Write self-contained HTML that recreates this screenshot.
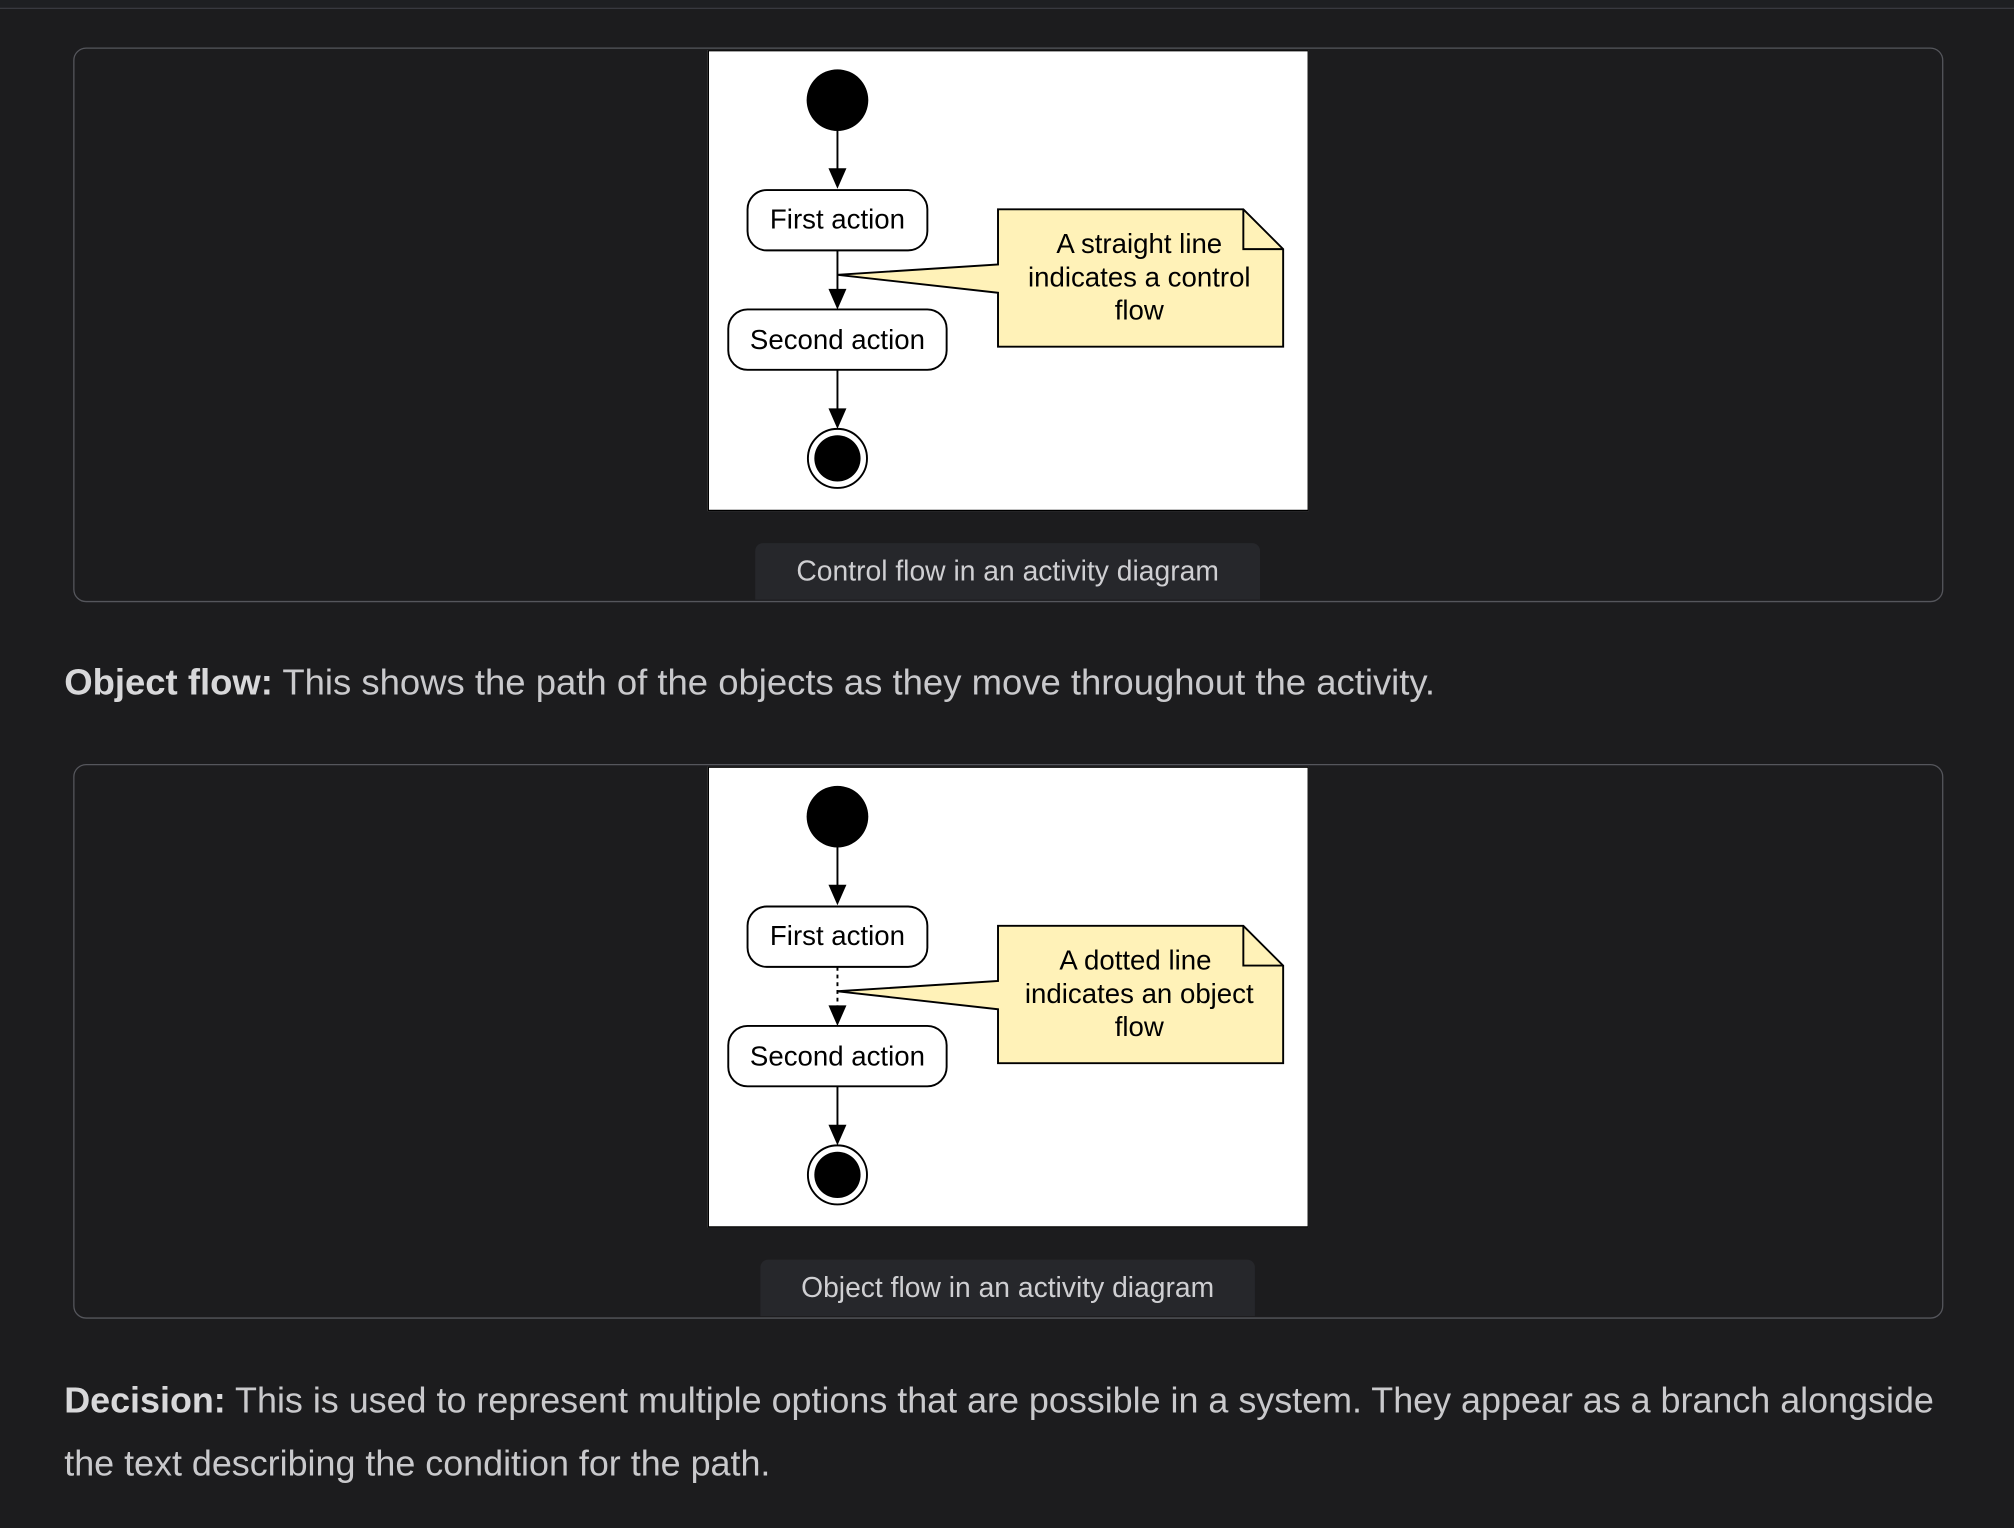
<!DOCTYPE html>
<html><head><meta charset="utf-8"><style>
html,body{margin:0;padding:0;background:#1c1c1e;width:2014px;height:1528px;overflow:hidden}
#w{position:absolute;left:0;top:0;width:1568px;height:1190px;transform:scale(1.28444,1.28403);transform-origin:0 0;font-family:"Liberation Sans",Arial,sans-serif}
.bar{position:absolute;left:0;top:0;width:1568px;height:6px;background:#1e1f22;border-bottom:1.5px solid #393a40}
.card{position:absolute;left:57px;width:1456px;height:432px;border:1.5px solid #55565c;border-radius:10px;box-sizing:border-box}
.img{position:absolute;left:551px;width:468px;height:359px;background:#fff;border:1.5px solid #000;box-sizing:border-box}
.cap{position:absolute;background:#26272b;border-radius:6px 6px 0 0;color:#cfcfd2;font-size:22px;text-align:center;line-height:44px;height:44px}
p{position:absolute;left:50px;margin:0;color:#c9c9cc;font-size:28.4px;line-height:49px;white-space:nowrap}
p b{color:#d8d8da}
</style></head><body><div id="w">
<div class="bar"></div>
<div class="card" style="top:37px"></div>
<div class="img" style="top:39px"></div>
<div class="cap" style="left:588px;top:423px;width:393px">Control flow in an activity diagram</div>
<p style="top:508px"><b>Object flow:</b> This shows the path of the objects as they move throughout the activity.</p>
<div class="card" style="top:595px"></div>
<div class="img" style="top:597px"></div>
<div class="cap" style="left:592px;top:981px;width:385px">Object flow in an activity diagram</div>
<p style="top:1066px;font-size:27.95px"><b>Decision:</b> This is used to represent multiple options that are possible in a system. They appear as a branch alongside<br>the text describing the condition for the path.</p>
<svg width="1568" height="1190" style="position:absolute;left:0;top:0" font-family="Liberation Sans, Arial, sans-serif" font-size="21.5">
<defs>
<g id="d">
<circle cx="652" cy="78" r="24" fill="#000"/>
<line x1="652" y1="102" x2="652" y2="132" stroke="#000" stroke-width="1.5"/>
<polygon points="645,131 659,131 652,147" fill="#000"/>
<rect x="582" y="148" width="140" height="47" rx="15" fill="#fff" stroke="#000" stroke-width="1.5"/>
<text x="652" y="178" text-anchor="middle">First action</text>
<polygon points="645,225 659,225 652,241" fill="#000"/>
<rect x="567" y="241" width="170" height="47" rx="15" fill="#fff" stroke="#000" stroke-width="1.5"/>
<text x="652" y="272" text-anchor="middle">Second action</text>
<line x1="652" y1="288" x2="652" y2="320" stroke="#000" stroke-width="1.5"/>
<polygon points="645,318 659,318 652,334" fill="#000"/>
<circle cx="652" cy="357" r="23" fill="#fff" stroke="#000" stroke-width="1.5"/>
<circle cx="652" cy="357" r="18" fill="#000"/>
<polygon points="777,163 968,163 999,194 999,270 777,270 777,228 652,214 777,206" fill="#fff2b8" stroke="#000" stroke-width="1.5"/>
<polyline points="968,163 968,194 999,194" fill="none" stroke="#000" stroke-width="1.5"/>
</g>
</defs>
<use href="#d"/>
<line x1="652" y1="195" x2="652" y2="227" stroke="#000" stroke-width="1.5"/>
<text x="887" y="197" text-anchor="middle">A straight line</text>
<text x="887" y="223" text-anchor="middle">indicates a control</text>
<text x="887" y="249" text-anchor="middle">flow</text>
<g transform="translate(0,558)">
<use href="#d"/>
<line x1="652" y1="195" x2="652" y2="227" stroke="#000" stroke-width="1.5" stroke-dasharray="3,3"/>
<text x="884" y="197" text-anchor="middle">A dotted line</text>
<text x="887" y="223" text-anchor="middle">indicates an object</text>
<text x="887" y="249" text-anchor="middle">flow</text>
</g>
</svg>
</div></body></html>
